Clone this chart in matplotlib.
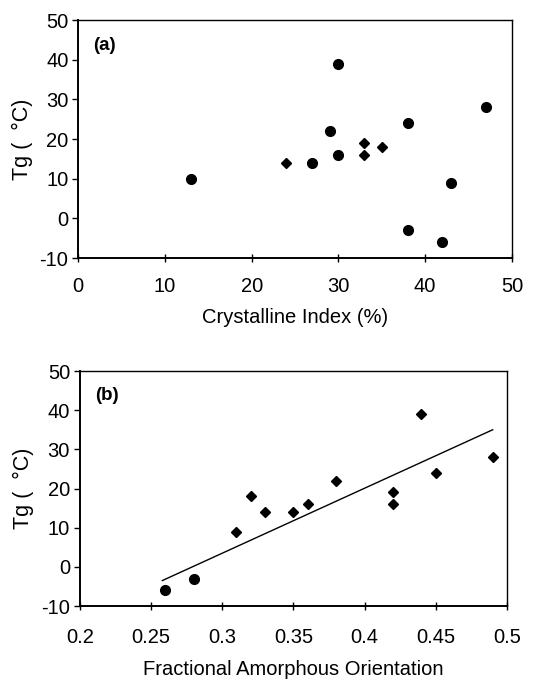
import numpy as np
import matplotlib
matplotlib.use("Agg")
import matplotlib.pyplot as plt

plt.rcParams['font.family'] = ['Liberation Sans', 'DejaVu Sans']
plt.rcParams['axes.unicode_minus'] = False

# panel (a): Tg vs crystalline index
ci_circle = [13, 27, 29, 30, 30, 38, 38, 42, 43, 47]
tg_circle_a = [10, 14, 22, 39, 16, 24, -3, -6, 9, 28]
ci_diamond = [24, 33, 33, 35]
tg_diamond_a = [14, 19, 16, 18]

# panel (b): Tg vs fractional amorphous orientation
fao_circle = [0.26, 0.28]
tg_circle_b = [-6, -3]
fao_diamond = [0.31, 0.32, 0.33, 0.35, 0.36, 0.38, 0.42, 0.42, 0.44, 0.45, 0.49]
tg_diamond_b = [9, 18, 14, 14, 16, 22, 19, 16, 39, 24, 28]

# fitted line as drawn
fit_x = [0.258, 0.49]
fit_y = [-3.5, 35]

fig = plt.figure(figsize=(5.54, 6.79), dpi=100)
ax1 = fig.add_axes([0.141, 0.620, 0.783, 0.3505])
ax2 = fig.add_axes([0.144, 0.1075, 0.771, 0.3461])

fs = 14.5
ylab = 'Tg (  \u00b0C)'


def style(ax, xpad):
    for side in ['left', 'bottom']:
        ax.spines[side].set_linewidth(1.4)
    for side in ['top', 'right']:
        ax.spines[side].set_linewidth(1.0)
    ax.tick_params(axis='x', direction='inout', length=6, width=1.0,
                   labelsize=fs, pad=xpad)
    ax.tick_params(axis='y', direction='out', length=4, width=1.0,
                   labelsize=fs, pad=3)
    ax.set_ylim(-10, 50)
    ax.set_yticks(range(-10, 51, 10))


ax1.plot(ci_circle, tg_circle_a, 'o', color='black', ms=7)
ax1.plot(ci_diamond, tg_diamond_a, 'D', color='black', ms=5)
ax1.set_xlim(0, 50)
ax1.set_xticks(range(0, 51, 10))
style(ax1, 11)
ax1.set_xlabel('Crystalline Index (%)', fontsize=fs, labelpad=8)
ax1.set_ylabel(ylab, fontsize=fs + 1, labelpad=5)
ax1.text(0.035, 0.93, '(a)', transform=ax1.transAxes, fontsize=fs - 1,
         fontweight='bold', va='top')

ax2.plot(fit_x, fit_y, color='black', lw=1.0)
ax2.plot(fao_circle, tg_circle_b, 'o', color='black', ms=7)
ax2.plot(fao_diamond, tg_diamond_b, 'D', color='black', ms=5)
ax2.set_xlim(0.2, 0.5)
ax2.set_xticks([0.2, 0.25, 0.3, 0.35, 0.4, 0.45, 0.5])
ax2.set_xticklabels(['0.2', '0.25', '0.3', '0.35', '0.4', '0.45', '0.5'])
style(ax2, 13)
ax2.set_xlabel('Fractional Amorphous Orientation', fontsize=fs, labelpad=9)
ax2.set_ylabel(ylab, fontsize=fs + 1, labelpad=5)
ax2.text(0.035, 0.93, '(b)', transform=ax2.transAxes, fontsize=fs - 1,
         fontweight='bold', va='top')

fig.savefig('out.png', dpi=100)
